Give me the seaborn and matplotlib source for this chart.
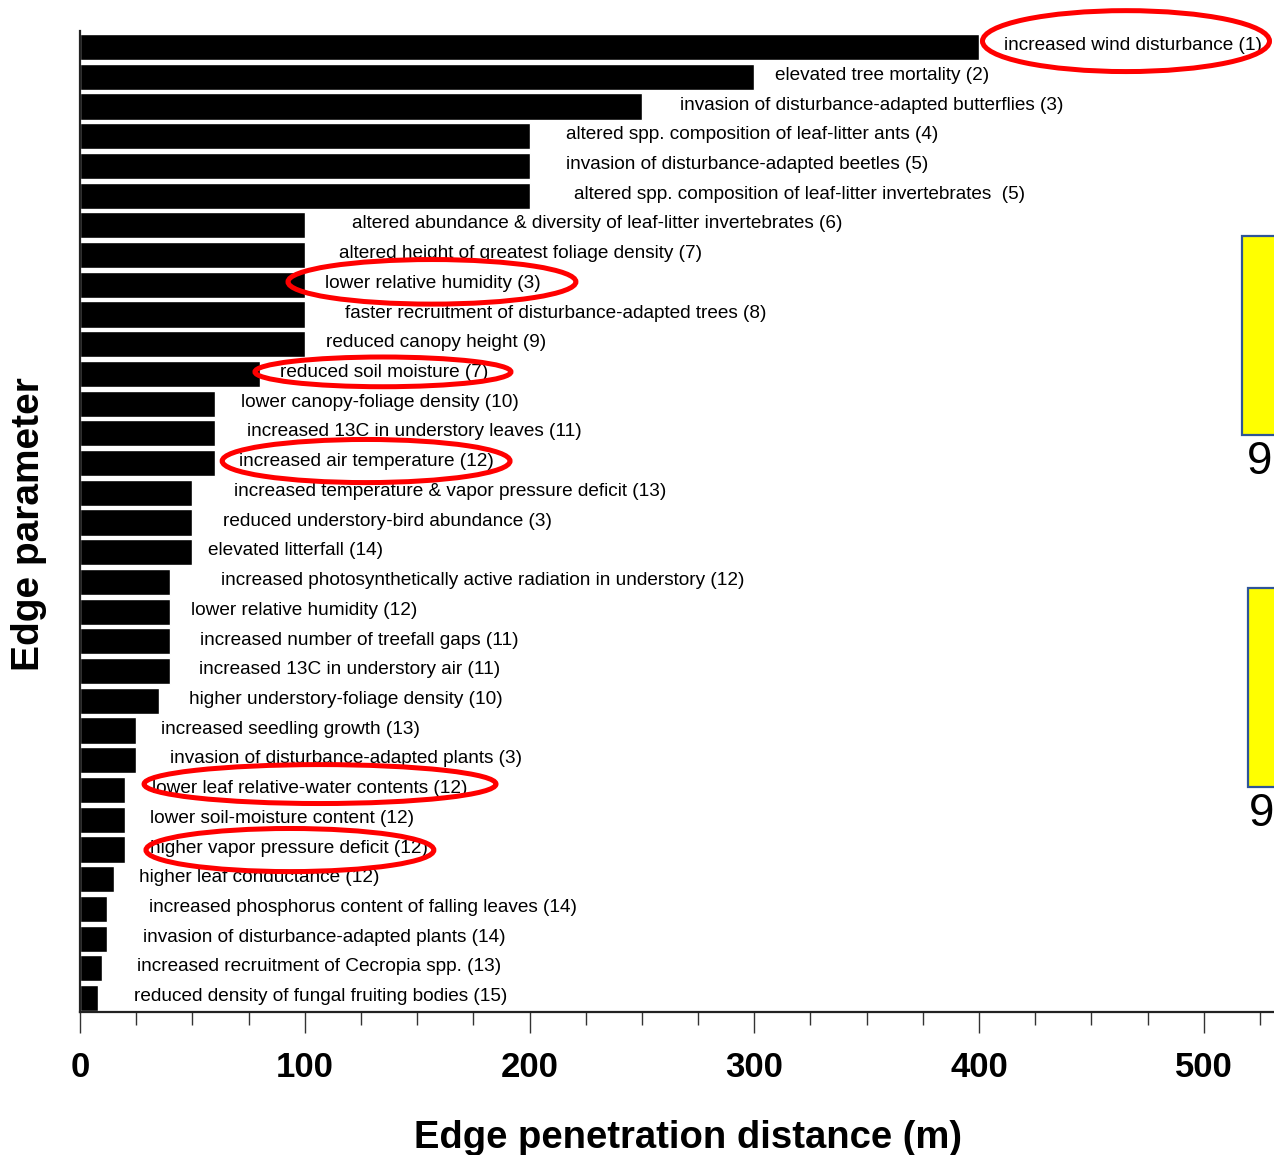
import matplotlib
matplotlib.use("Agg")
import matplotlib.pyplot as plt
from matplotlib.patches import Ellipse, Rectangle
from matplotlib.ticker import MultipleLocator
import seaborn as sns
import pandas as pd

# ---------------- data ----------------
PARAMETERS = [
    "increased wind disturbance (1)",
    "elevated tree mortality (2)",
    "invasion of disturbance-adapted butterflies (3)",
    "altered spp. composition of leaf-litter ants (4)",
    "invasion of disturbance-adapted beetles (5)",
    "altered spp. composition of leaf-litter invertebrates  (5)",
    "altered abundance & diversity of leaf-litter invertebrates (6)",
    "altered height of greatest foliage density (7)",
    "lower relative humidity (3)",
    "faster recruitment of disturbance-adapted trees (8)",
    "reduced canopy height (9)",
    "reduced soil moisture (7)",
    "lower canopy-foliage density (10)",
    "increased 13C in understory leaves (11)",
    "increased air temperature (12)",
    "increased temperature & vapor pressure deficit (13)",
    "reduced understory-bird abundance (3)",
    "elevated litterfall (14)",
    "increased photosynthetically active radiation in understory (12)",
    "lower relative humidity (12)",
    "increased number of treefall gaps (11)",
    "increased 13C in understory air (11)",
    "higher understory-foliage density (10)",
    "increased seedling growth (13)",
    "invasion of disturbance-adapted plants (3)",
    "lower leaf relative-water contents (12)",
    "lower soil-moisture content (12)",
    "higher vapor pressure deficit (12)",
    "higher leaf conductance (12)",
    "increased phosphorus content of falling leaves (14)",
    "invasion of disturbance-adapted plants (14)",
    "increased recruitment of Cecropia spp. (13)",
    "reduced density of fungal fruiting bodies (15)",
]
DISTANCES = [400, 300, 250, 200, 200, 200, 100, 100, 100, 100, 100, 80,
             60, 60, 60, 50, 50, 50, 40, 40, 40, 40, 35, 25, 25, 20, 20, 20,
             15, 12, 12, 10, 8]
X_TICKS = [0, 100, 200, 300, 400, 500]
X_LABEL = "Edge penetration distance (m)"
Y_LABEL = "Edge parameter"
SIDE_TEXT = ["9", "9"]

# ---------------- layout (pixels / styles) ----------------
LABEL_GAP_PX = [25, 21, 38, 37, 36, 44, 47, 34, 20, 40, 21, 20, 26, 32, 24,
                42, 31, 16, 51, 21, 30, 29, 30, 25, 34, 27, 25, 25, 25, 42,
                36, 35, 36]
# red hand-drawn ellipses: (center x data, center y row, width data, height rows)
ELLIPSES = [
    (465.4, -0.20, 127.7, 2.05),
    (156.6, 7.90, 128.1, 1.50),
    (134.8, 10.93, 113.9, 1.00),
    (127.3, 13.93, 128.1, 1.45),
    (106.8, 24.80, 156.6, 1.31),
    (93.4, 27.02, 128.1, 1.45),
]

W, H = 1274, 1155
sns.set_style("ticks")
plt.rcParams["font.family"] = ["Liberation Sans", "DejaVu Sans"]
plt.rcParams["text.color"] = "black"
plt.rcParams["axes.labelcolor"] = "black"
plt.rcParams["xtick.labelcolor"] = "black"

fig = plt.figure(figsize=(W / 100, H / 100), dpi=100)
ax_left, ax_right = 80, 1274
ax_top, ax_bottom = 31, 1012
ax = fig.add_axes([ax_left / W, (H - ax_bottom) / H,
                   (ax_right - ax_left) / W, (ax_bottom - ax_top) / H])

df = pd.DataFrame({"parameter": PARAMETERS, "distance": DISTANCES})
sns.barplot(data=df, x="distance", y="parameter", orient="h", color="black",
            saturation=1, width=0.88, ax=ax, order=PARAMETERS)

ax.set_xlim(0, (ax_right - ax_left) / 2.2475)
ax.set_ylim(32.47, -0.54)

for i, (name, val) in enumerate(zip(PARAMETERS, DISTANCES)):
    ax.annotate(name, xy=(val, i), xytext=(LABEL_GAP_PX[i] * 0.72, 1.0),
                textcoords="offset points", va="center", ha="left",
                fontsize=13.7, color="black")

for (cx, cy, w, h) in ELLIPSES:
    ax.add_patch(Ellipse((cx, cy), w, h, fill=False, ec="red", lw=3.6,
                         clip_on=False, zorder=5))

# axes styling
ax.tick_params(axis="y", left=False, labelleft=False)
ax.set_xticks(X_TICKS)
ax.xaxis.set_minor_locator(MultipleLocator(25))
ax.tick_params(axis="x", which="major", length=15, width=1.0, pad=13,
               labelsize=25, color="#333333", labelcolor="black")
ax.tick_params(axis="x", which="minor", length=9, width=1.0, color="#333333")
for lab in ax.get_xticklabels():
    lab.set_fontweight("bold")
for s in ["top", "right"]:
    ax.spines[s].set_visible(False)
ax.spines["left"].set_linewidth(1.6)
ax.spines["bottom"].set_linewidth(1.6)
ax.spines["left"].set_color("#222222")
ax.spines["bottom"].set_color("#222222")

ax.set_xlabel(X_LABEL, fontsize=27.5, fontweight="bold", color="black")
ax.set_ylabel(Y_LABEL, fontsize=28, fontweight="bold", color="black")
ax.xaxis.set_label_coords((688 - ax_left) / (ax_right - ax_left),
                          ((H - 1120) - (H - ax_bottom)) / (ax_bottom - ax_top))
ax.yaxis.set_label_coords((47 - ax_left) / (ax_right - ax_left),
                          ((H - 524) - (H - ax_bottom)) / (ax_bottom - ax_top))

# yellow boxes on the right edge (cut off by the picture edge)
for (x0, y0, y1), (tx, ty), t in zip([(1242, 236, 435), (1248, 588, 787)],
                                     [(1247, 462), (1249, 814)], SIDE_TEXT):
    fig.add_artist(Rectangle((x0 / W, (H - y1) / H), (W + 20 - x0) / W,
                             (y1 - y0) / H, transform=fig.transFigure,
                             facecolor="#FFFF00", edgecolor="#2F5597",
                             lw=1.6, clip_on=False))
    fig.text(tx / W, (H - ty) / H, t, fontsize=33, ha="left", va="center",
             color="black")

fig.savefig("out.png", dpi=100)
